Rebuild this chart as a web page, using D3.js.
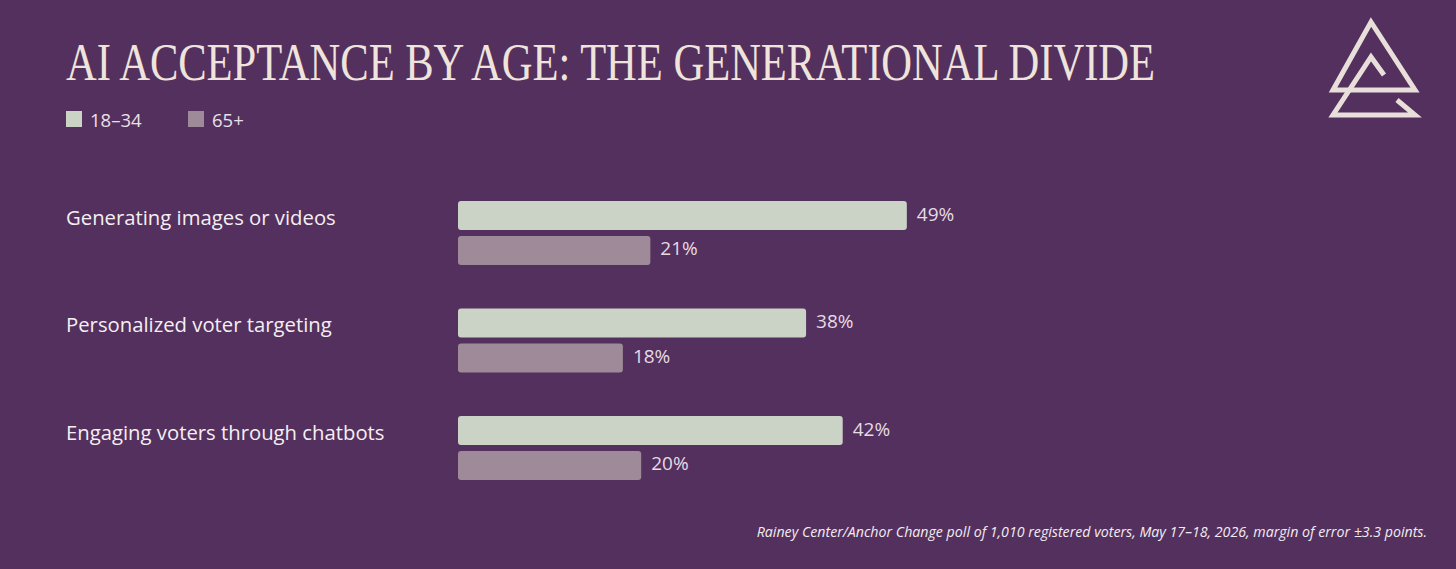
<!DOCTYPE html>
<html>
<head>
<meta charset="utf-8">
<script src="https://cdn.jsdelivr.net/npm/d3@7"></script>
<style>
  html, body { margin: 0; padding: 0; background: #54305e; }
  svg { display: block; }
</style>
</head>
<body>
<svg id="chart" width="1456" height="569"></svg>
<script>
const categories = ["Generating images or videos", "Personalized voter targeting", "Engaging voters through chatbots"];
const seriesNames = ["18–34", "65+"];
const young = [49, 38, 42];
const old = [21, 18, 20];

const colors = { "18–34": "#cbd2c6", "65+": "#9e8a98" };

const svg = d3.select("#chart");
const width = +svg.attr("width");
const height = +svg.attr("height");

svg.append("rect").attr("width", width).attr("height", height).attr("fill", "#54305e");

// Title
svg.append("text")
    .attr("x", 66).attr("y", 80)
    .attr("textLength", 1089).attr("lengthAdjust", "spacingAndGlyphs")
    .style("font-family", "'Liberation Serif', serif")
    .style("font-size", "52px")
    .attr("fill", "#efe4dc")
    .text("AI ACCEPTANCE BY AGE: THE GENERATIONAL DIVIDE");

// Legend
const legendX = [66, 188];
const legend = svg.append("g");
seriesNames.forEach((s, i) => {
    legend.append("rect")
        .attr("x", legendX[i]).attr("y", 111)
        .attr("width", 16).attr("height", 16)
        .attr("fill", colors[s]);
    legend.append("text")
        .attr("x", legendX[i] + 24).attr("y", 127)
        .style("font-family", "'Open Sans', sans-serif")
        .style("font-size", "18.5px")
        .attr("fill", "#e9e0e6")
        .text(s);
});

// Scales
const y = d3.scaleBand().domain(categories).range([201, 201 + 107.5 * 3]);
const yInner = d3.scaleBand().domain(seriesNames).range([0, 64]).paddingInner(0.17);
const x = d3.scaleLinear().domain([0, 100]).range([458, 458 + 916]);

const rows = categories.map((c, i) => ({
    cat: c,
    values: [{ key: "18–34", v: young[i] }, { key: "65+", v: old[i] }]
}));

const groups = svg.selectAll(".group")
    .data(rows)
    .enter()
    .append("g")
    .attr("class", "group")
    .attr("transform", d => `translate(0,${y(d.cat)})`);

groups.append("text")
    .attr("x", 66)
    .attr("y", yInner("18–34") + yInner.bandwidth() / 2 + 1)
    .attr("dominant-baseline", "central")
    .style("font-family", "'Open Sans', sans-serif")
    .style("font-size", "20.3px")
    .attr("fill", "#f4eff2")
    .text(d => d.cat);

groups.selectAll(".bar")
    .data(d => d.values)
    .enter()
    .append("rect")
    .attr("class", "bar")
    .attr("x", x(0))
    .attr("y", d => yInner(d.key))
    .attr("width", d => x(d.v) - x(0))
    .attr("height", yInner.bandwidth())
    .attr("rx", 3)
    .attr("fill", d => colors[d.key]);

groups.selectAll(".val")
    .data(d => d.values)
    .enter()
    .append("text")
    .attr("class", "val")
    .attr("x", d => x(d.v) + 10)
    .attr("y", d => yInner(d.key) + yInner.bandwidth() / 2 - 2)
    .attr("dominant-baseline", "central")
    .style("font-family", "'Open Sans', sans-serif")
    .style("font-size", "19px")
    .attr("fill", "#e6dbe3")
    .text(d => d.v + "%");

// Footnote
svg.append("text")
    .attr("x", 1427).attr("y", 537)
    .attr("text-anchor", "end")
    .style("font-family", "'Open Sans', sans-serif")
    .style("font-size", "14.2px")
    .style("font-style", "italic")
    .attr("fill", "#f2ecf0")
    .text("Rainey Center/Anchor Change poll of 1,010 registered voters, May 17–18, 2026, margin of error ±3.3 points.");

// Logo
const logo = svg.append("g")
    .attr("fill", "none")
    .attr("stroke", "#e9dfda")
    .attr("stroke-width", 5)
    .attr("stroke-linejoin", "miter");
logo.append("path").attr("d", "M1333,90 L1371,22 L1415,90 Z");
logo.append("path").attr("d", "M1384,75 L1371,57 L1333,115 L1415,115 L1397,100");
</script>
</body>
</html>
